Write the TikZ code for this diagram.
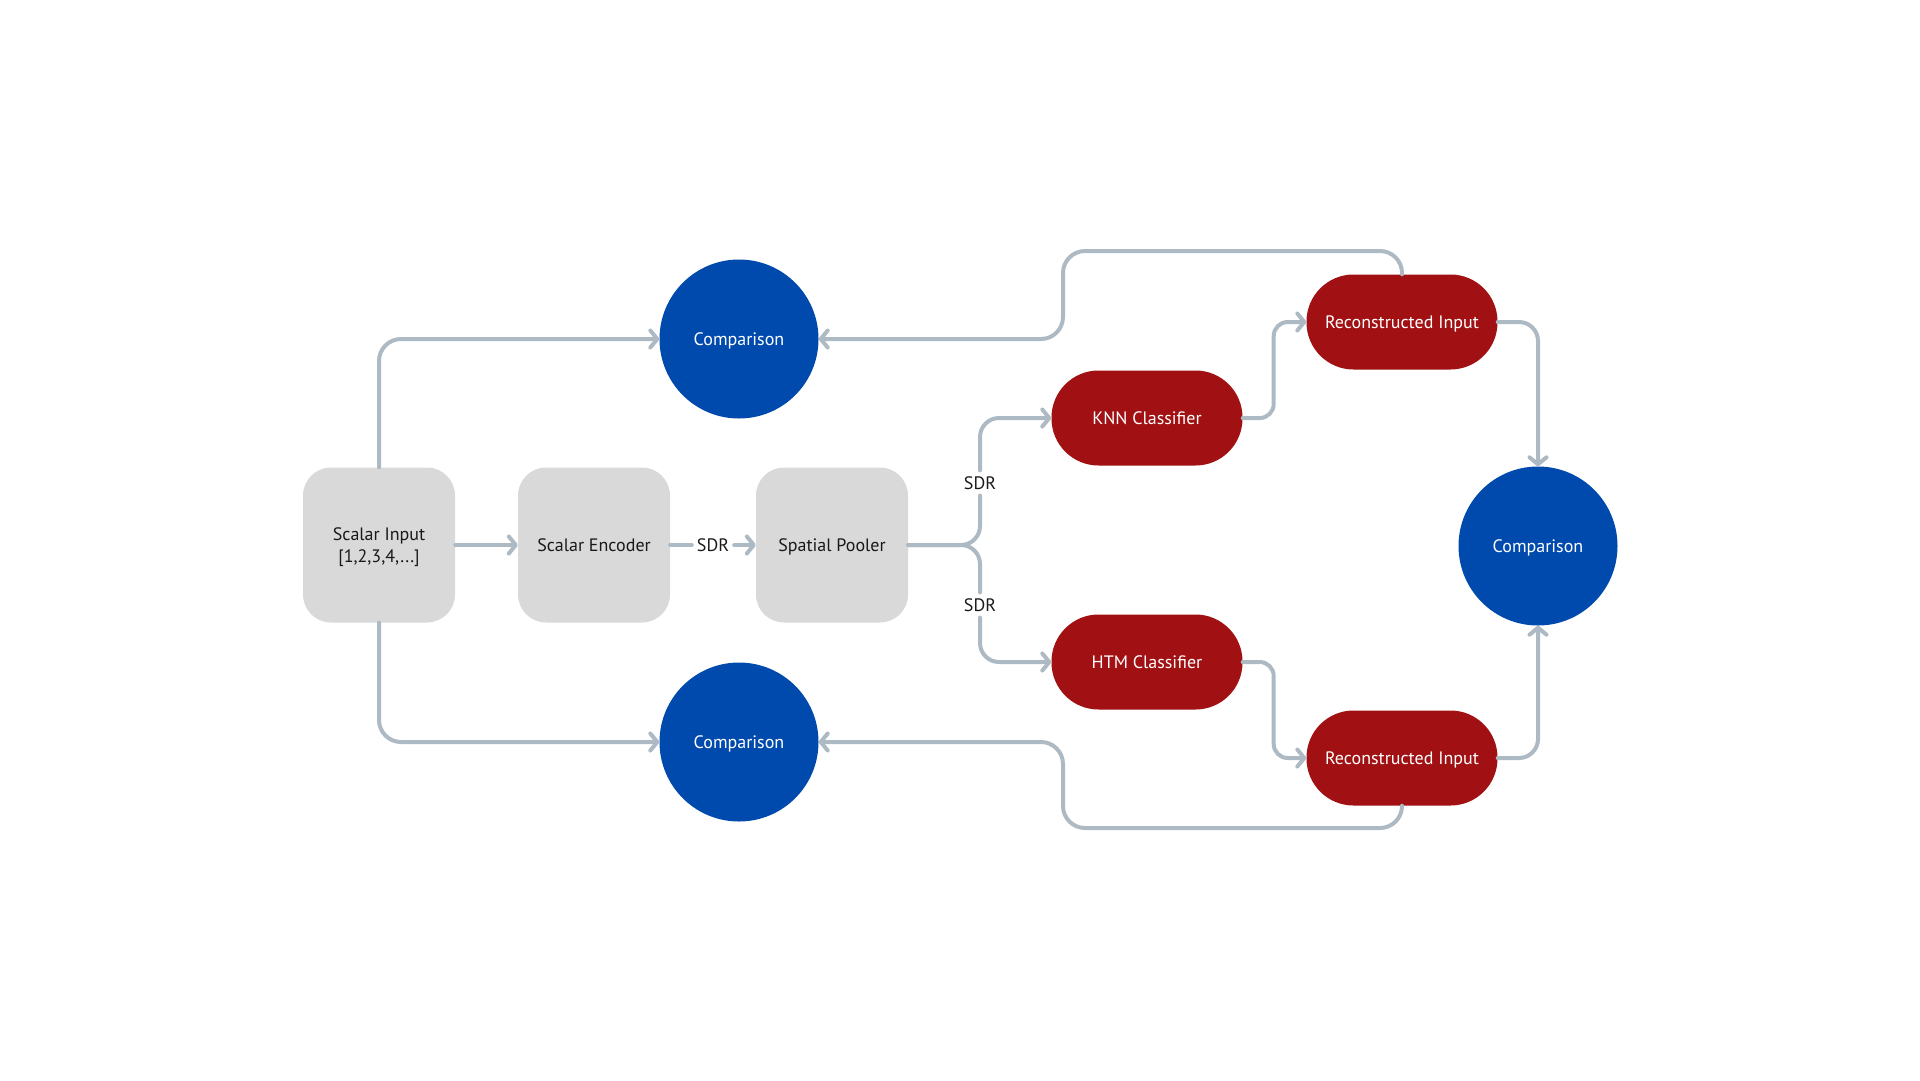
\documentclass[tikz,border=0pt]{standalone}
\usepackage{fontspec}
\setmainfont{PT Sans}
\usepackage{tikz}
\usetikzlibrary{arrows.meta}

\definecolor{boxgray}{HTML}{D9D9D9}
\definecolor{linegray}{HTML}{AEBAC3}
\definecolor{cmpblue}{HTML}{004AAD}
\definecolor{clsred}{HTML}{A11012}

\begin{document}
\begin{tikzpicture}[x=1pt, y=-1pt,
    every node/.style={font=\fontsize{18}{22}\selectfont, text depth=0pt},
    stage/.style={fill=boxgray, rounded corners=28pt, minimum width=152pt, minimum height=155pt, align=center, text=black!90},
    cmp/.style={circle, fill=cmpblue, minimum size=159pt, text=white},
    cls/.style={fill=clsred, rounded corners=47pt, minimum width=191pt, minimum height=95pt, text=white},
    lbl/.style={inner sep=6pt, text=black!90},
    conn/.style={draw=linegray, line width=4pt, line cap=round, line join=round},
    arr/.style={conn, -{Straight Barb[round, length=7pt, width=17pt]}}]
  \useasboundingbox (0,0) rectangle (1920,1080);

  % Main chain
  \node[stage] (in) at (379,545) {Scalar Input\\{}[1,2,3,4,...]};
  \node[stage] (enc) at (594,545) {Scalar Encoder};
  \node[stage] (pool) at (832,545) {Spatial Pooler};
  \node[lbl, inner sep=5pt] (sdr0) at (713,545) {SDR};

  % Comparisons
  \node[cmp] (cmpT) at (739,339) {Comparison};
  \node[cmp] (cmpB) at (739,742) {Comparison};
  \node[cmp] (cmpR) at (1538,546) {Comparison};

  % Classifiers and reconstructions
  \node[cls] (knn) at (1147,418) {KNN Classifier};
  \node[cls] (htm) at (1147,662) {HTM Classifier};
  \node[cls] (recA) at (1402,322) {Reconstructed Input};
  \node[cls] (recB) at (1402,758) {Reconstructed Input};

  \node[lbl] (sdrK) at (980,483) {SDR};
  \node[lbl] (sdrH) at (980,605) {SDR};

  \coordinate (loopT) at (1063,251);
  \coordinate (loopB) at (1063,828);

  % Connectors
  \draw[arr] (in.east) -- (enc.west);
  \draw[conn] (enc.east) -- (sdr0.west);
  \draw[arr] (sdr0.east) -- (pool.west);

  \draw[arr, rounded corners=22pt] (in.north) |- (cmpT.west);
  \draw[arr, rounded corners=22pt] (in.south) |- (cmpB.west);

  \draw[conn, rounded corners=19pt] (pool.east) -| (sdrK.south);
  \draw[conn, rounded corners=19pt] (pool.east) -| (sdrH.north);
  \draw[arr, rounded corners=19pt] (sdrK.north) |- (knn.west);
  \draw[arr, rounded corners=19pt] (sdrH.south) |- (htm.west);

  \draw[arr, rounded corners=14pt] (knn.east) -- ++(31,0) |- (recA.west);
  \draw[arr, rounded corners=14pt] (htm.east) -- ++(31,0) |- (recB.west);

  \draw[arr, rounded corners=19pt] (recA.east) -| (cmpR.north);
  \draw[arr, rounded corners=19pt] (recB.east) -| (cmpR.south);

  \draw[arr, rounded corners=22pt] (recA.north) |- (loopT) |- (cmpT.east);
  \draw[arr, rounded corners=22pt] (recB.south) |- (loopB) |- (cmpB.east);
\end{tikzpicture}
\end{document}
